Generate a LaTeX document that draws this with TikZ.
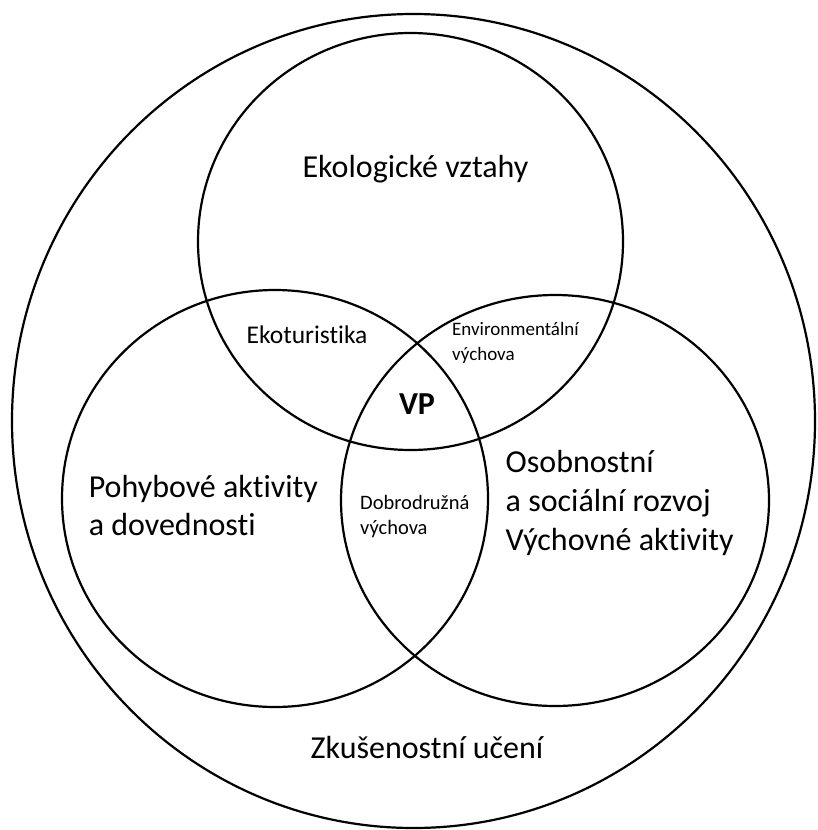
\documentclass[tikz,border=0pt]{standalone}
\usepackage{fontspec}
\setmainfont[Ligatures={NoCommon}]{Carlito}
\usetikzlibrary{shapes.geometric}
\begin{document}
\begin{tikzpicture}[x=1pt,y=-1pt,
  ring/.style={draw=black, line width=2.2pt, ellipse, inner sep=0pt, outer sep=0pt},
  bigtxt/.style={inner sep=0pt, align=left, font=\fontsize{32}{39}\selectfont},
  midtxt/.style={inner sep=0pt, align=left, font=\fontsize{25.5}{29}\selectfont},
  smalltxt/.style={inner sep=0pt, align=left, font=\fontsize{19}{24.5}\selectfont},
  smalltxtb/.style={inner sep=0pt, align=left, font=\fontsize{20.5}{25}\selectfont},
  vptxt/.style={inner sep=0pt, font=\fontsize{32}{36}\selectfont\bfseries}]
\useasboundingbox (0,0) rectangle (817,830);
\node[ring, minimum width=803pt, minimum height=814pt] (outer) at (413.5,421) {};
\node[ring, minimum width=425pt, minimum height=417pt] (top) at (410.5,241.5) {};
\node[ring, minimum width=426pt, minimum height=417pt] (left) at (275,498.5) {};
\node[ring, minimum width=428pt, minimum height=411pt] (right) at (555,500.5) {};
\node[bigtxt] (eko) at (415.5,169) {Ekologické vztahy};
\node[midtxt] (ekot) at (307,335) {Ekoturistika};
\node[smalltxt, anchor=west] (env) at (452,343) {Environmentální\\výchova};
\node[vptxt] (vp) at (417,404) {VP};
\node[bigtxt, anchor=west] (poh) at (88.6,505.5) {Pohybové aktivity\\a dovednosti};
\node[smalltxtb, anchor=west] (dob) at (360,516.5) {Dobrodružná\\výchova};
\node[bigtxt, anchor=west] (oso) at (505.5,503) {Osobnostní\\a sociální rozvoj\\Výchovné aktivity};
\node[bigtxt] (zku) at (427,747) {Zkušenostní učení};
\end{tikzpicture}
\end{document}
